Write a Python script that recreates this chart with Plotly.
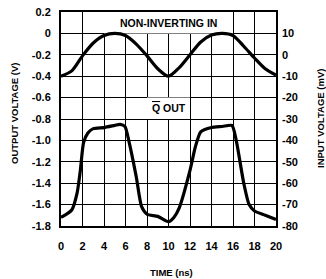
import plotly.graph_objects as go

# Time axis (ns)
time_ns = [0, 1, 2, 3, 4, 5, 6, 7, 8, 9, 10, 11, 12, 13, 14, 15, 16, 17, 18, 19, 20]
# Non-inverting input (mV), right axis
input_mv = [-10, -7.5, -0.5, 5.5, 9, 10, 9, 5, -0.5, -6.5, -10, -6, 0, 6, 9.2, 10, 9, 4, -1.5, -6.5, -9.5]

# Q OUT (V), left axis
q_time = [0, 1, 1.5, 1.8, 2.1, 2.5, 3, 4, 5, 5.5, 5.95, 6.3, 7, 7.5, 8, 9, 10, 10.5, 11, 12, 12.5, 13, 14, 15, 15.9, 16.3, 17, 17.5, 18, 19, 20]
q_out = [-1.72, -1.65, -1.49, -1.28, -1.02, -0.93, -0.89, -0.88, -0.86, -0.85, -0.87, -1.0, -1.34, -1.62, -1.69, -1.71, -1.76, -1.72, -1.63, -1.28, -1.06, -0.92, -0.88, -0.87, -0.86, -1.0, -1.4, -1.6, -1.66, -1.70, -1.74]

left_ticks = [0.2, 0, -0.2, -0.4, -0.6, -0.8, -1.0, -1.2, -1.4, -1.6, -1.8]
left_labels = ["0.2", "0", "-0.2", "-0.4", "-0.6", "-0.8", "-1.0", "-1.2", "-1.4", "-1.6", "-1.8"]
right_ticks = [10, 0, -10, -20, -30, -40, -50, -60, -70, -80]
right_labels = ["10", "0", "-10", "-20", "-30", "-40", "-50", "-60", "-70", "-80"]
x_ticks = [0, 2, 4, 6, 8, 10, 12, 14, 16, 18, 20]

FONT = "Liberation Sans"
fig = go.Figure()
fig.add_trace(go.Scatter(x=q_time, y=q_out, mode="lines", line=dict(color="black", width=3.2, shape="spline", smoothing=0.6), yaxis="y", showlegend=False, hoverinfo="skip"))
fig.add_trace(go.Scatter(x=time_ns, y=input_mv, mode="lines", line=dict(color="black", width=3.2, shape="spline", smoothing=0.8), yaxis="y2", showlegend=False, hoverinfo="skip"))

fig.add_shape(type="rect", x0=4, x1=16, y0=0, y1=0.2, xref="x", yref="y", fillcolor="white", line=dict(width=0), layer="between")
fig.add_shape(type="rect", x0=8, x1=12, y0=-0.8, y1=-0.6, xref="x", yref="y", fillcolor="white", line=dict(width=0), layer="between")
fig.add_annotation(x=10, y=0.1, xref="x", yref="y", text="<b>NON-INVERTING IN</b>", showarrow=False, font=dict(family=FONT, size=10.5, color="black"))
fig.add_annotation(x=10, y=-0.7, xref="x", yref="y", text="<b><span style='text-decoration:overline'>Q</span> OUT</b>", showarrow=False, font=dict(family=FONT, size=10.5, color="black"))

# axis titles
fig.add_annotation(x=0, y=0.5, xref="paper", yref="paper", xanchor="center", yanchor="middle", xshift=-47, yshift=6,
                   text="<b>OUTPUT VOLTAGE (V)</b>", textangle=-90, showarrow=False, font=dict(size=9.5))
fig.add_annotation(x=1, y=0.5, xref="paper", yref="paper", xanchor="center", yanchor="middle", xshift=44, yshift=0,
                   text="<b>INPUT VOLTAGE (mV)</b>", textangle=-90, showarrow=False, font=dict(size=9.5))
fig.add_annotation(x=0.5, y=0, xref="paper", yref="paper", xanchor="center", yanchor="middle", xshift=3, yshift=-46,
                   text="<b>TIME (ns)</b>", showarrow=False, font=dict(size=9.5))

fig.update_layout(
    width=326, height=279,
    margin=dict(l=61, r=50, t=12, b=53, autoexpand=False),
    paper_bgcolor="white", plot_bgcolor="white",
    font=dict(family=FONT, size=10.5, color="black"),
    xaxis=dict(range=[0, 20], tickvals=x_ticks, showgrid=True, gridcolor="black", gridwidth=1.3,
               showline=True, linecolor="black", linewidth=2, mirror=True, zeroline=False,
               ticks="", ticklabelstandoff=9, automargin=False,
               tickfont=dict(size=11, weight="bold")),
    yaxis=dict(range=[-1.8, 0.2], tickvals=left_ticks, ticktext=left_labels, showgrid=True, gridcolor="black", gridwidth=1.3,
               showline=True, linecolor="black", linewidth=2, mirror=True, zeroline=False,
               ticks="", ticklabelstandoff=6, automargin=False,
               tickfont=dict(size=11, weight="bold")),
    yaxis2=dict(range=[-80, 20], overlaying="y", side="right", tickvals=right_ticks, ticktext=right_labels,
                showgrid=False, zeroline=False, showline=False, ticks="", ticklabelstandoff=5, automargin=False,
                tickfont=dict(size=11, weight="bold")),
)

fig.write_html("out.html", config={"displayModeBar": False}, post_script="document.body.style.margin='0px';")
